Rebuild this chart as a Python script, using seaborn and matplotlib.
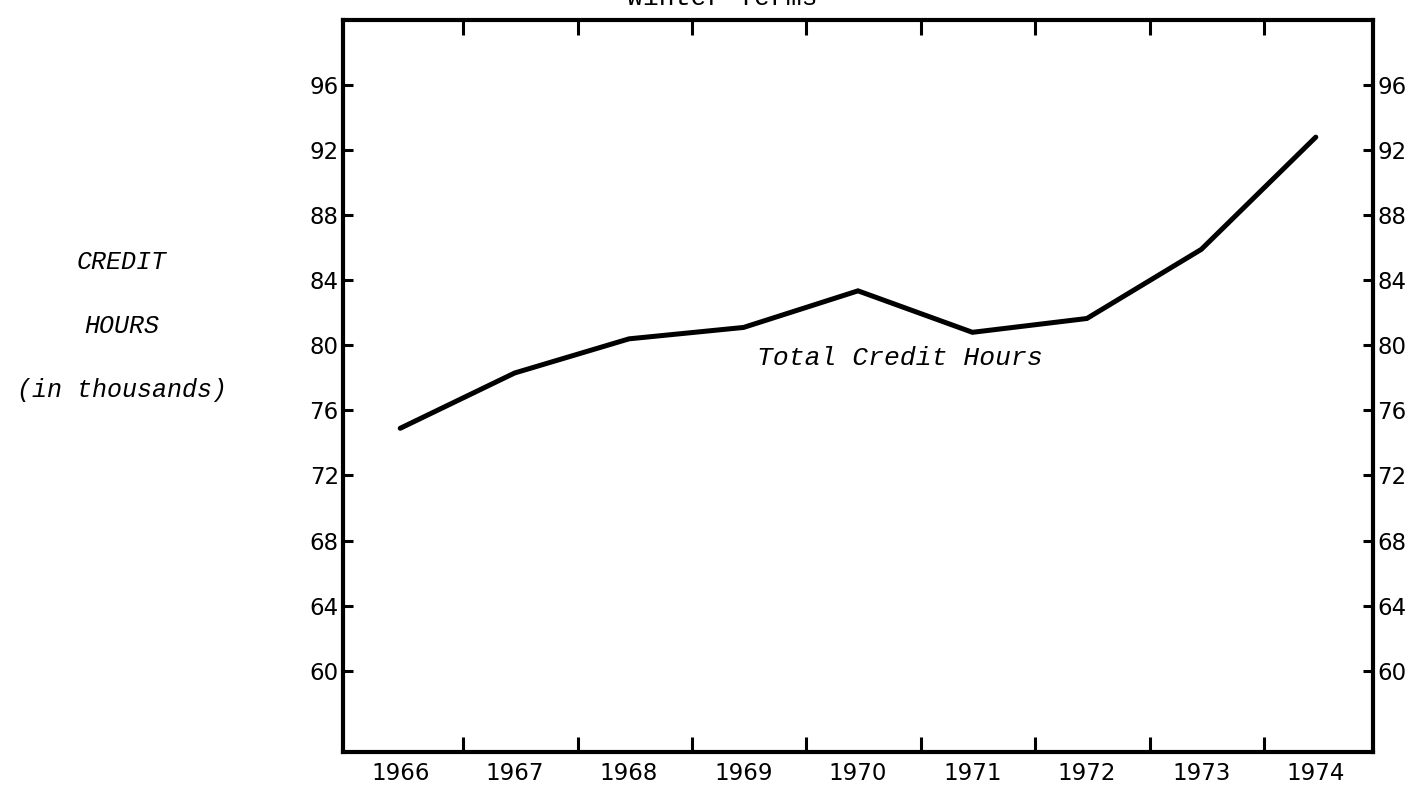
import matplotlib
matplotlib.use("Agg")
import matplotlib.pyplot as plt
import seaborn as sns
import pandas as pd

# values (credit hours, thousands)
years = [1966, 1967, 1968, 1969, 1970, 1971, 1972, 1973, 1974]
credit_hours = [74.9, 78.3, 80.4, 81.1, 83.35, 80.8, 81.65, 85.9, 92.8]
y_ticks = [60, 64, 68, 72, 76, 80, 84, 88, 92, 96]
year_labels = [str(y) for y in years]
left_label = ["CREDIT", "HOURS", "(in thousands)"]
series_label = "Total Credit Hours"
title = "Winter Terms"

sns.set_theme(style="white")
plt.rcParams["font.family"] = ["DejaVu Sans"]
plt.rcParams["text.color"] = "black"
plt.rcParams["xtick.color"] = "black"
plt.rcParams["ytick.color"] = "black"

W, H = 1413, 785
fig = plt.figure(figsize=(W / 100, H / 100), dpi=100)
ax = fig.add_axes([343 / W, 1 - 752 / H, (1373 - 343) / W, (752 - 20) / H])

df = pd.DataFrame({"year": years, "hours": credit_hours})
sns.lineplot(data=df, x="year", y="hours", ax=ax, color="black",
             linewidth=3.6, solid_capstyle="round", solid_joinstyle="miter")

ax.set_xlim(1965.5, 1974.5)
ax.set_ylim(55, 100)
ax.set_xlabel("")
ax.set_ylabel("")

# year labels sit under the points, tick marks sit between years
ax.set_xticks(years)
ax.set_xticklabels(year_labels)
ax.set_xticks([y + 0.55 for y in years[:-1]], minor=True)
ax.tick_params(axis="x", which="major", length=0, pad=7, labelsize=16.5, labelcolor="black")
ax.tick_params(axis="x", which="minor", direction="in", length=11, width=2.2,
               top=True, bottom=True, color="black")

ax.set_yticks(y_ticks)
ax.tick_params(axis="y", direction="in", length=7, width=2.2, left=True, right=True,
               labelleft=True, labelright=True, labelsize=16.5, pad=3,
               color="black", labelcolor="black")

for s in ax.spines.values():
    s.set_visible(True)
    s.set_color("black")
    s.set_linewidth(3)

mono_it = dict(family=["Liberation Mono", "DejaVu Sans Mono"], style="italic", color="black")
ax.text(1969.12, 79.2, series_label, ha="left", va="center", fontsize=19, **mono_it)

for i, txt in enumerate(left_label):
    fig.text(122 / W, 1 - (262 + 64 * i) / H, txt, ha="center", va="center",
             fontsize=18, **mono_it)

# title is cut off by the top edge of the scan
fig.text(722 / W, 1 + 2 / H, title, ha="center", va="center", fontsize=19,
         family=["Liberation Mono", "DejaVu Sans Mono"], color="black")

fig.savefig("out.png", dpi=100, facecolor="white")
